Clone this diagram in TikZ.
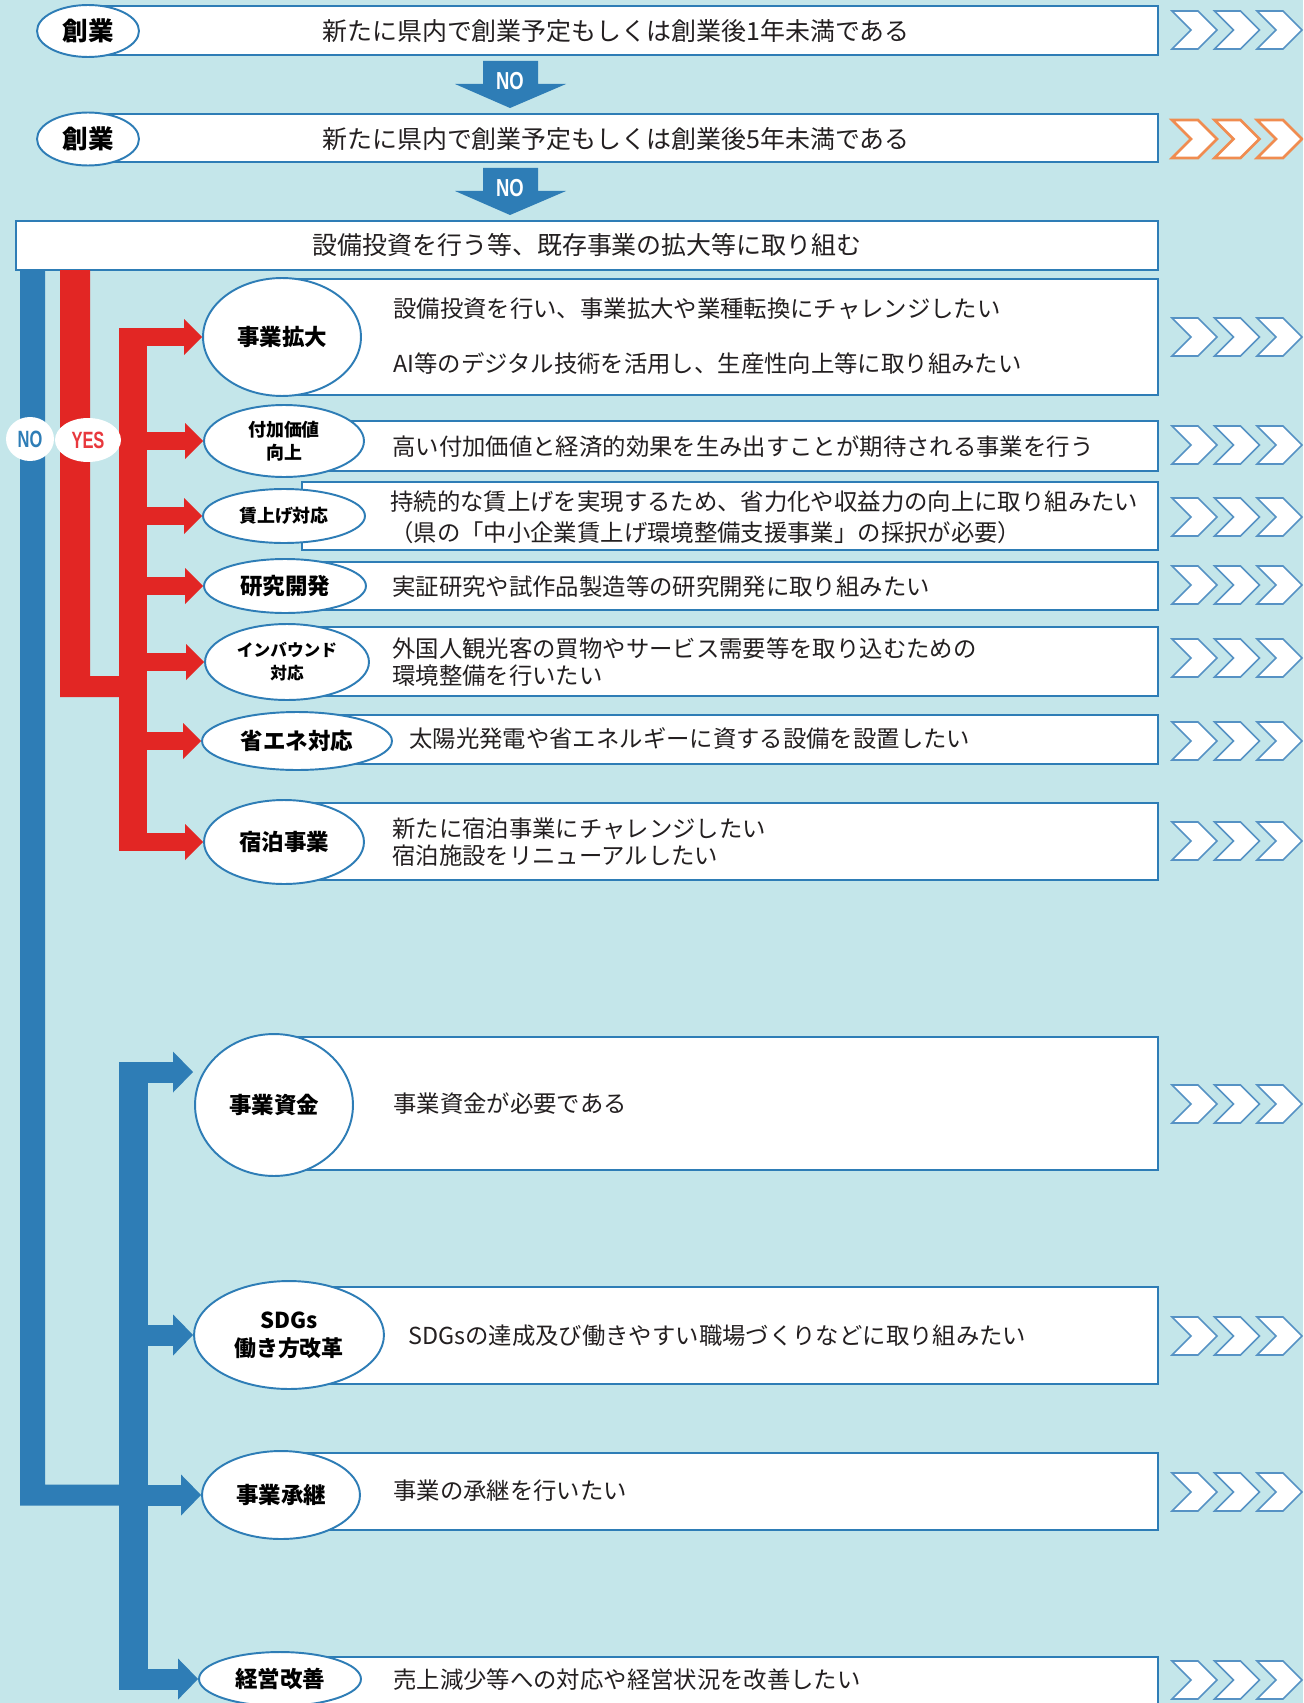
\documentclass[tikz,border=0pt]{standalone}
\usepackage{fontspec}
\setmainfont{Noto Sans CJK JP}
\newfontfamily\yesnofont{Liberation Sans}
\usetikzlibrary{shapes.geometric,fit}

\definecolor{bgcyan}{RGB}{196,230,234}
\definecolor{flowblue}{RGB}{46,125,182}
\definecolor{flowred}{RGB}{226,38,36}
\definecolor{yesred}{RGB}{232,56,61}
\definecolor{chevblue}{RGB}{86,146,196}
\definecolor{chevorange}{RGB}{240,140,80}
\definecolor{inkgray}{RGB}{35,31,32}

\tikzset{
  box/.style={draw=flowblue,line width=0.8pt,fill=white,inner sep=0pt},
  tag/.style={ellipse,draw=flowblue,line width=1.1pt,fill=white,inner sep=0pt,
    align=center,text=black,font=\bfseries\fontsize{12.8}{15}\selectfont},
  esize/.style 2 args={minimum width=#1*0.04cm,minimum height=#2*0.04cm},
  desc/.style={anchor=west,inner sep=0pt,align=left,text=inkgray,
    font=\fontsize{13.3}{#1}\selectfont},
  desc/.default=15pt,
  downno/.style={text=white,inner sep=0pt,font=\yesnofont\bfseries\fontsize{14}{14}\selectfont},
  yesno/.style={ellipse,fill=white,inner sep=0pt,minimum width=0.96cm,minimum height=0.88cm,
    font=\yesnofont\bfseries\fontsize{13.4}{13.4}\selectfont}
}

\begin{document}
\begin{tikzpicture}[x=0.02cm,y=-0.02cm]
% the page and its cyan background
\useasboundingbox (0,0) rectangle (1303,1703);
\clip (0,0) rectangle (1303,1703);
\fill[bgcyan] (0,0) rectangle (1303,1703);

% white boxes behind the texts
\foreach \n/\l/\t/\b in {1/88/6/55,2/88/114/162,3/16/221/270,4/282/279/395,
  5/284/421/471,6/302/482/550,7/285/562/610,8/287/627/696,9/297/715/764,
  10/284/803/880,11/274/1037/1170,12/289/1287/1384,13/281/1453/1530,14/280/1657/1730}
  \node[box,fit={(\l,\t) (1158,\b)}] (b\n) {};

% the NO arrows between the first boxes
\foreach \t [count=\i] in {61,168}{
  \fill[flowblue] (483,\t) -- (538,\t) -- (538,\t+23) -- (566,\t+23) -- (510,\t+47)
    -- (455,\t+23) -- (483,\t+23) -- cycle;
  \node[downno] (no\i) at (510,\t+20) {\scalebox{0.75}[1]{NO}};
}

% the ellipses
\node[tag,esize={51}{26},font=\bfseries\fontsize{14.5}{16}\selectfont] (e1) at (88,31) {創業};
\node[tag,esize={51}{26.5},font=\bfseries\fontsize{14.5}{16}\selectfont] (e2) at (88,139) {創業};
\node[tag,esize={79}{59}] (e4) at (282,337) {事業拡大};
\node[tag,esize={80}{36},font=\bfseries\fontsize{10.2}{13}\selectfont] (e5) at (284,441) {付加価値\\向上};
\node[tag,esize={81}{27},font=\bfseries\fontsize{10.2}{13}\selectfont] (e6) at (284,516) {賃上げ対応};
\node[tag,esize={81}{27}] (e7) at (285,586) {研究開発};
\node[tag,esize={82}{38},font=\bfseries\fontsize{9.5}{13}\selectfont] (e8) at (287,662) {インバウンド\\対応};
\node[tag,esize={95}{29}] (e9) at (297,741) {省エネ対応};
\node[tag,esize={80}{42}] (e10) at (284,842) {宿泊事業};
\node[tag,esize={79}{71}] (e11) at (274,1105) {事業資金};
\node[tag,esize={95}{54},font=\bfseries\fontsize{12.5}{16}\selectfont] (e12) at (289,1335) {SDGs\\働き方改革};
\node[tag,esize={79}{44}] (e13) at (281,1495) {事業承継};
\node[tag,esize={81}{27}] (e14) at (280,1679) {経営改善};

% the yes branch (red)
\fill[flowred] (60,270) -- (90,270) -- (90,676) -- (119,676) -- (119,697) -- (60,697) -- cycle;
\fill[flowred] (119,328) rectangle (147,851);
\foreach \e in {e4,e5,e6,e7,e8,e9,e10}{
  \draw[flowred,line width=0.36cm] (\e.west -| 119,0) -- ([xshift=-0.34cm]\e.west);
  \fill[flowred] (\e.west) -- ++(-18,-18) -- ++(0,36) -- cycle;
}

% the no branch (blue)
\coordinate (a11) at (193,1072);
\fill[flowblue] (20,270) -- (45,270) -- (45,1484.5) -- (119,1484.5) -- (119,1505.5) -- (20,1505.5) -- cycle;
\fill[flowblue] (119,1062) rectangle (148,1689.5);
\foreach \p in {a11,e12.west,e13.west,e14.west}{
  \draw[flowblue,line width=0.42cm] (\p -| 119,0) -- ([xshift=-0.38cm]\p);
  \fill[flowblue] (\p) -- ++(-20,-20.5) -- ++(0,41) -- cycle;
}

% labels of the two branches
\node[yesno,text=flowblue] (lno) at (30,439) {\scalebox{0.7}[1]{NO}};
\node[yesno,text=yesred,minimum width=1.32cm] (lyes) at (88,440) {\scalebox{0.7}[1]{YES}};

% the texts in the boxes
\node[desc,anchor=center,font=\fontsize{14.2}{16}\selectfont] (t1) at (616,31) {新たに県内で創業予定もしくは創業後1年未満である};
\node[desc,anchor=center,font=\fontsize{14.2}{16}\selectfont] (t2) at (616,139) {新たに県内で創業予定もしくは創業後5年未満である};
\node[desc,anchor=center,font=\fontsize{14.2}{16}\selectfont] (t3) at (587,245) {設備投資を行う等、既存事業の拡大等に取り組む};
\node[desc] (t4a) at (393,309) {設備投資を行い、事業拡大や業種転換にチャレンジしたい};
\node[desc] (t4b) at (393,364) {AI等のデジタル技術を活用し、生産性向上等に取り組みたい};
\node[desc] (t5) at (392,447) {高い付加価値と経済的効果を生み出すことが期待される事業を行う};
\node[desc=17.6pt] (t6) at (390,517) {持続的な賃上げを実現するため、省力化や収益力の向上に取り組みたい\\（県の「中小企業賃上げ環境整備支援事業」の採択が必要）};
\node[desc] (t7) at (392,587) {実証研究や試作品製造等の研究開発に取り組みたい};
\node[desc] (t8) at (392,662) {外国人観光客の買物やサービス需要等を取り込むための\\環境整備を行いたい};
\node[desc] (t9) at (409,739) {太陽光発電や省エネルギーに資する設備を設置したい};
\node[desc] (t10) at (392,842) {新たに宿泊事業にチャレンジしたい\\宿泊施設をリニューアルしたい};
\node[desc] (t11) at (393,1104) {事業資金が必要である};
\node[desc] (t12) at (408,1336) {SDGsの達成及び働きやすい職場づくりなどに取り組みたい};
\node[desc] (t13) at (393,1491) {事業の承継を行いたい};
\node[desc] (t14) at (393,1680) {売上減少等への対応や経営状況を改善したい};

% chevrons on the right
\foreach \y/\c/\w in {30/chevblue/0.9pt,139/chevorange/1.5pt,337/chevblue/0.9pt,445/chevblue/0.9pt,
  517/chevblue/0.9pt,585/chevblue/0.9pt,658/chevblue/0.9pt,741/chevblue/0.9pt,841/chevblue/0.9pt,
  1104/chevblue/0.9pt,1336/chevblue/0.9pt,1492/chevblue/0.9pt,1680/chevblue/0.9pt}
  \foreach \x in {1172,1214.5,1257}
    \draw[fill=white,draw=\c,line width=\w,line join=miter]
      (\x,\y-19) -- (\x+26,\y-19) -- (\x+45,\y) -- (\x+26,\y+19) -- (\x,\y+19) -- (\x+19,\y) -- cycle;
\end{tikzpicture}
\end{document}
